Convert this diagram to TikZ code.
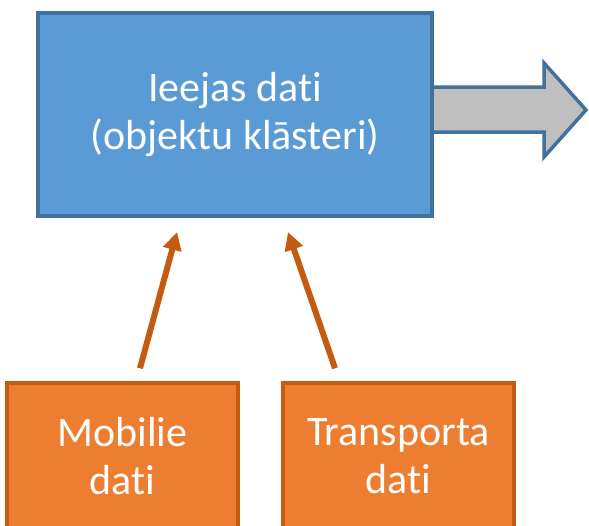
\documentclass[tikz,border=0pt]{standalone}
\usepackage{fontspec}
\setmainfont{Carlito}[Ligatures=NoCommon]
\usetikzlibrary{arrows.meta}

\definecolor{boxblue}{HTML}{5B9BD5}
\definecolor{lineblue}{HTML}{41719C}
\definecolor{boxorange}{HTML}{ED7D31}
\definecolor{lineorange}{HTML}{C55A11}
\definecolor{arrowgray}{HTML}{BFBFBF}

\begin{document}
\begin{tikzpicture}
    [x=1pt,y=1pt,
     every node/.style={font=\fontsize{42}{48}\selectfont,text=white,align=center},
     mainbox/.style={draw=lineblue,fill=boxblue,line width=4pt,
       minimum width=394pt,minimum height=203pt},
     srcbox/.style={draw=lineorange,fill=boxorange,line width=3.5pt,
       minimum width=231pt,minimum height=146pt},
     feed/.style={draw=lineorange,line width=6pt,
       -{Triangle[length=18pt,width=18pt]}},
     outarrow/.style={draw=lineblue,fill=arrowgray,line width=3.5pt,line join=miter}]
  \useasboundingbox (0,0) rectangle (589,-525);

  % output arrow, drawn first so the box edge covers its tail
  \coordinate (tail) at (432,-87);
  \path[outarrow] (tail) -- ++(112,0) -- ++(0,24) -- (586,-110)
    -- (544,-157) -- ++(0,25) -- (432,-132) -- cycle;

  \node[mainbox] (ieejas) at (235,-114.5) {Ieejas dati\\(objektu klāsteri)};
  \node[srcbox] (mobilie) at (122.5,-456) {Mobilie\\dati};
  \node[srcbox] (transp) at (398.5,-456) {Transporta\\dati};

  \draw[feed] ([xshift=17.5pt,yshift=13pt]mobilie.north)
    -- ([xshift=-58pt,yshift=-14pt]ieejas.south);
  \draw[feed] ([xshift=-63.5pt,yshift=13pt]transp.north)
    -- ([xshift=53pt,yshift=-14pt]ieejas.south);
\end{tikzpicture}
\end{document}
